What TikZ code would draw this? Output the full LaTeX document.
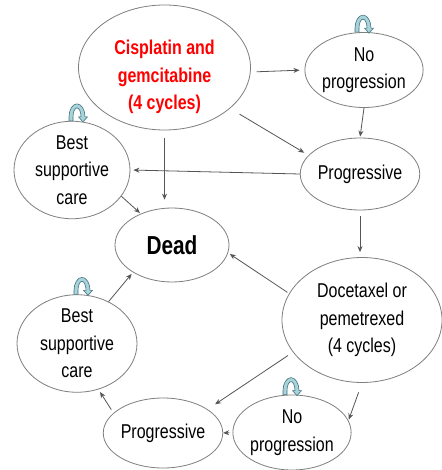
\documentclass[tikz,border=0pt]{standalone}
\usepackage{fontspec}
\setmainfont[FakeStretch=0.8]{Liberation Sans}
\usepackage{tikz}
\usetikzlibrary{shapes.geometric, arrows.meta}
\definecolor{EdgeGray}  {HTML}{7F7F7F}
\definecolor{ArrowGray} {HTML}{555555}
\definecolor{LoopFill}  {HTML}{A9D3DA}
\definecolor{LoopEdge}  {HTML}{41727C}
\definecolor{DrugRed}   {HTML}{FF0000}
\newcommand{\stxt}{\fontsize{20}{27.5}\selectfont}

\begin{document}
\begin{tikzpicture}[
		x=1pt, y=-1pt,
		state/.style={ellipse, draw=EdgeGray, fill=white, line width=0.8pt,
			inner sep=0pt, align=center, font=\stxt},
		drugtext/.style={align=center, inner sep=0pt, text=DrugRed,
			font=\stxt\bfseries},
		arr/.style={-{Stealth[length=6pt, width=5pt]}, ArrowGray, line width=0.8pt},
		stay/.style={fill=LoopFill, draw=LoopEdge, line width=0.6pt, line join=round},
		]
		\path[use as bounding box, fill=white] (0,0) rectangle (441,470);
		% ── First line treatment and its states ──────────────────────────────────────
		\node[state, minimum width=172pt, minimum height=125pt] (cis)  at (164.5,67.5) {};
		\node[drugtext]                                         (cistxt) at (164.5,77) {Cisplatin and\\gemcitabine\\(4 cycles)};
		\node[state, minimum width=115pt, minimum height=75pt]  (nop1) at (364,70)   {No\\progression};
		\node[state, minimum width=116pt, minimum height=72pt]  (prog1) at (360,174) {Progressive};
		\node[state, minimum width=116pt, minimum height=96pt]  (bsc1) at (72,170)   {Best\\supportive\\care};
		\node[state, minimum width=114pt, minimum height=74pt, font=\fontsize{26}{30}\selectfont\bfseries] (dead) at (172,245) {Dead};
		% ── Second line treatment and its states ─────────────────────────────────────
		\node[state, minimum width=160pt, minimum height=125pt] (doc)  at (362,320)   {Docetaxel or\\pemetrexed\\(4 cycles)};
		\node[state, minimum width=120pt, minimum height=97pt]  (bsc2) at (77,343.5)  {Best\\supportive\\care};
		\node[state, minimum width=114pt, minimum height=70pt]  (prog2) at (163,433)  {Progressive};
		\node[state, minimum width=116pt, minimum height=75pt]  (nop2) at (292,432.5) {No\\progression};
		% ── Transitions ──────────────────────────────────────────────────────────────
		\draw[arr, shorten <=6pt, shorten >=5pt] (cis.-3) -- (nop1.west);
		\draw[arr, shorten >=1pt] (nop1.south) -- (prog1.north);
		\draw[arr, shorten <=11pt, shorten >=5pt] (cis.-32) -- (prog1.160);
		\draw[arr, shorten >=3pt] (prog1.west) -- (bsc1.east);
		\draw[arr, shorten <=8pt, shorten >=8pt] (cis.south) -- (cis.south |- dead.north);
		\draw[arr, shorten >=1pt] (bsc1.-28) -- (dead.135);
		\draw[arr, shorten <=6pt, shorten >=5pt] (prog1.south) -- (prog1.south |- doc.north);
		\draw[arr, shorten <=2pt, shorten >=2pt] (doc.160) -- (dead.-8);
		\draw[arr, shorten <=6pt, shorten >=9pt] (doc.205) -- (prog2.28);
		\draw[arr, shorten <=10pt, shorten >=1pt] (doc.south) -- (nop2.12);
		\draw[arr, shorten <=3pt] (nop2.west) -- (prog2.east);
		\draw[arr, shorten <=4pt, shorten >=3pt] (prog2.158) -- (bsc2.-65);
		\draw[arr, shorten >=2pt] (bsc2.53) -- (dead.215);
		% Staying in the same state
		\foreach \n/\dx in {nop1/1, bsc1/7, bsc2/7, nop2/1}
		\draw[stay, shift={(\n.north)}, xshift=\dx pt]
		(-10,0) -- (-10,-4) arc[start angle=180, end angle=360, x radius=8, y radius=13]
		-- (8.5,-4) -- (4,1) -- (-0.5,-4) -- (2,-4)
		arc[start angle=360, end angle=180, x radius=4, y radius=9] -- (-6,0) -- cycle;
	\end{tikzpicture}
\end{document}
